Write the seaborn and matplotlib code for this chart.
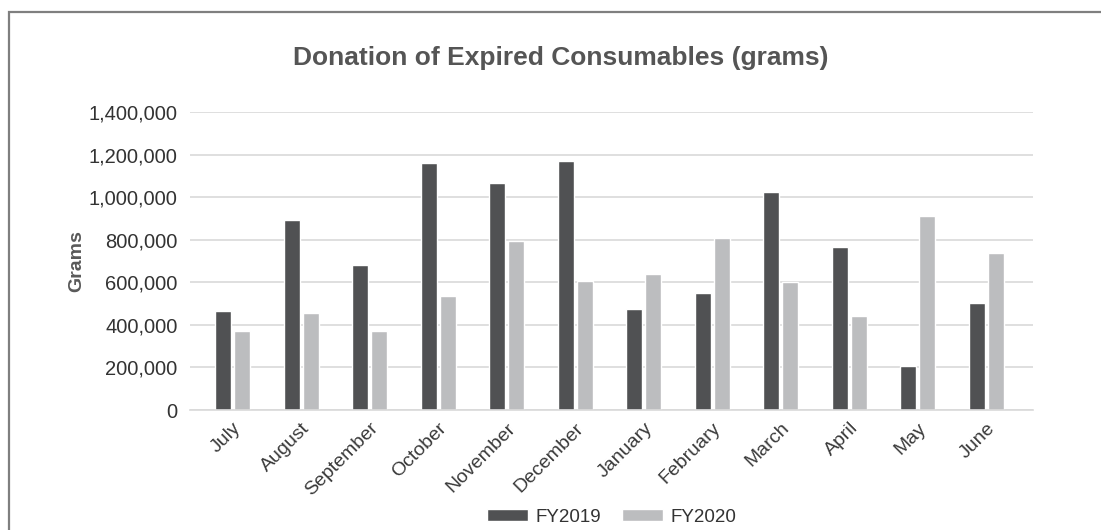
import matplotlib
matplotlib.use("Agg")
import matplotlib.pyplot as plt
import matplotlib.patches as mpatches
from matplotlib.ticker import FuncFormatter
import seaborn as sns
import pandas as pd

months = ["July", "August", "September", "October", "November", "December",
          "January", "February", "March", "April", "May", "June"]
fy2019 = [465000, 894000, 682000, 1162000, 1068000, 1171000,
          475000, 550000, 1025000, 767000, 207000, 503000]
fy2020 = [372000, 456000, 372000, 536000, 795000, 607000,
          640000, 809000, 600000, 442000, 912000, 738000]
series_names = ["FY2019", "FY2020"]
y_ticks = [0, 200000, 400000, 600000, 800000, 1000000, 1200000, 1400000]

df = pd.DataFrame({
    "Month": months * 2,
    "Grams": fy2019 + fy2020,
    "Year": [series_names[0]] * len(months) + [series_names[1]] * len(months),
})

sns.set_theme(style="white")
plt.rcParams["font.family"] = ["Liberation Sans", "DejaVu Sans"]

W, H = 1101, 530
fig = plt.figure(figsize=(W / 100, H / 100), dpi=100)
ax = fig.add_axes([190 / W, 1 - 410 / H, (1033 - 190) / W, (410 - 112.3) / H])

sns.barplot(data=df, x="Month", y="Grams", hue="Year", order=months,
            hue_order=series_names, palette=["#505153", "#bcbdbf"],
            width=0.555, gap=0.16, saturation=1, ax=ax, legend=True)

ax.set_xlim(-0.62, 11.68)
ax.set_ylim(0, 1400000)
ax.set_yticks(y_ticks)
ax.yaxis.set_major_formatter(FuncFormatter(lambda v, p: f"{int(v):,}"))
ax.grid(axis="y", color="#d9d9d9", linewidth=1.2)
ax.grid(axis="x", visible=False)
ax.set_axisbelow(True)
for side in ["top", "right", "left"]:
    ax.spines[side].set_visible(False)
ax.spines["bottom"].set_color("#d9d9d9")
ax.spines["bottom"].set_linewidth(1.2)

ax.tick_params(axis="y", length=0, pad=9, labelsize=14.5, labelcolor="#333333")
ax.tick_params(axis="x", length=0, pad=7, labelsize=14, labelcolor="#3a3a3a")
for lbl in ax.get_xticklabels():
    lbl.set_rotation(45)
    lbl.set_ha("right")
    lbl.set_rotation_mode("anchor")

ax.set_xlabel("")
ax.set_ylabel("Grams", fontsize=14, fontweight="bold", color="#595959", labelpad=2)

fig.text(560.5 / W, 1 - 58 / H, "Donation of Expired Consumables (grams)",
         ha="center", va="center", fontsize=19, fontweight="bold", color="#555555")

handles, labels = ax.get_legend_handles_labels()
ax.get_legend().remove()
fig.legend(handles, labels, loc="center", bbox_to_anchor=(611.5 / W, 1 - 517 / H),
           ncol=2, frameon=False, fontsize=13.5, handlelength=2.2, handleheight=0.55,
           handletextpad=0.4, columnspacing=1.1, labelcolor="#333333")

# outer chart frame
frame = mpatches.Rectangle((9 / W, -0.1), 1.2, 1 - 11.7 / H + 0.1,
                           transform=fig.transFigure, fill=False,
                           edgecolor="#7f7f7f", linewidth=1.6)
fig.patches.append(frame)

fig.savefig("out.png", dpi=100)
